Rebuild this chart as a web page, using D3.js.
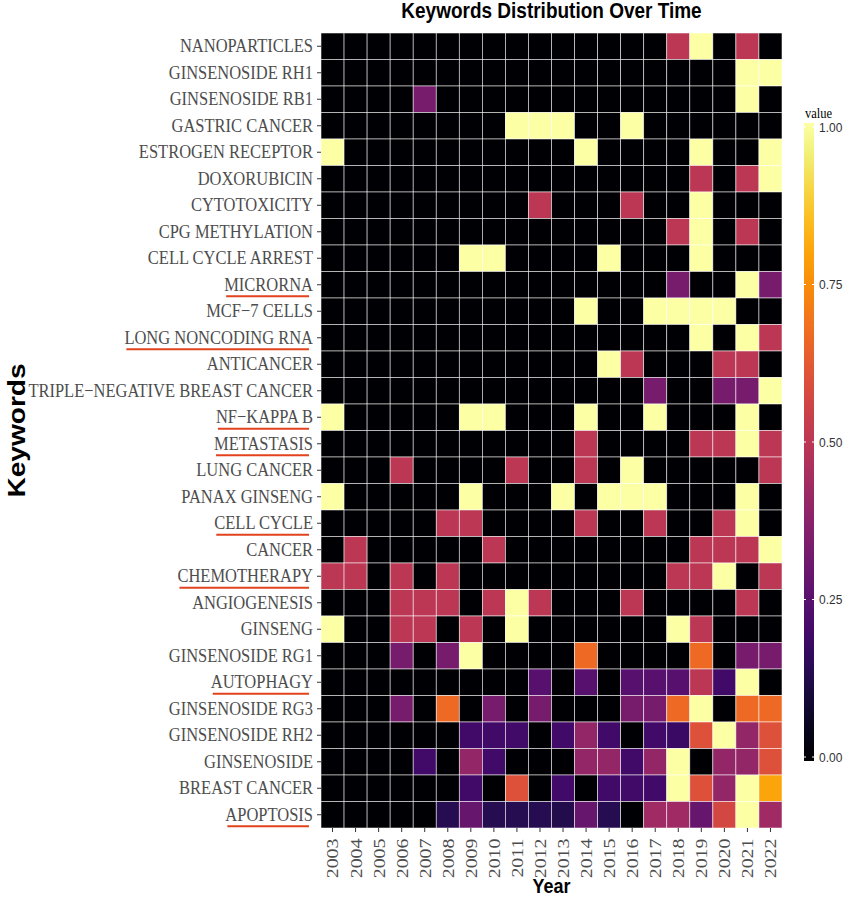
<!DOCTYPE html>
<html>
<head>
<meta charset="utf-8">
<script src="https://cdn.jsdelivr.net/npm/d3@7"></script>
<style>
  body { margin: 0; background: #fff; }
  svg { display: block; }
</style>
</head>
<body>
<div id="chart"></div>
<script>
// years on the x axis
var years = ['2003', '2004', '2005', '2006', '2007', '2008', '2009', '2010', '2011', '2012',
             '2013', '2014', '2015', '2016', '2017', '2018', '2019', '2020', '2021', '2022'];

// keywords, top to bottom
var keywords = ['NANOPARTICLES', 'GINSENOSIDE RH1', 'GINSENOSIDE RB1', 'GASTRIC CANCER',
  'ESTROGEN RECEPTOR', 'DOXORUBICIN', 'CYTOTOXICITY', 'CPG METHYLATION', 'CELL CYCLE ARREST',
  'MICRORNA', 'MCF\u22127 CELLS', 'LONG NONCODING RNA', 'ANTICANCER',
  'TRIPLE\u2212NEGATIVE BREAST CANCER', 'NF\u2212KAPPA B', 'METASTASIS', 'LUNG CANCER',
  'PANAX GINSENG', 'CELL CYCLE', 'CANCER', 'CHEMOTHERAPY', 'ANGIOGENESIS', 'GINSENG',
  'GINSENOSIDE RG1', 'AUTOPHAGY', 'GINSENOSIDE RG3', 'GINSENOSIDE RH2', 'GINSENOSIDE',
  'BREAST CANCER', 'APOPTOSIS'];

// one row per keyword, one value per year (2003..2022)
var values = [
  [0,0,0,0,0,0,0,0,0,0,0,0,0,0,0,.5,1,0,.5,0],
  [0,0,0,0,0,0,0,0,0,0,0,0,0,0,0,0,0,0,1,1],
  [0,0,0,0,.33,0,0,0,0,0,0,0,0,0,0,0,0,0,1,0],
  [0,0,0,0,0,0,0,0,1,1,1,0,0,1,0,0,0,0,0,0],
  [1,0,0,0,0,0,0,0,0,0,0,1,0,0,0,0,1,0,0,1],
  [0,0,0,0,0,0,0,0,0,0,0,0,0,0,0,0,.5,0,.5,1],
  [0,0,0,0,0,0,0,0,0,.5,0,0,0,.5,0,0,1,0,0,0],
  [0,0,0,0,0,0,0,0,0,0,0,0,0,0,0,.5,1,0,.5,0],
  [0,0,0,0,0,0,1,1,0,0,0,0,1,0,0,0,1,0,0,0],
  [0,0,0,0,0,0,0,0,0,0,0,0,0,0,0,.33,0,0,1,.33],
  [0,0,0,0,0,0,0,0,0,0,0,1,0,0,1,1,1,1,0,0],
  [0,0,0,0,0,0,0,0,0,0,0,0,0,0,0,0,1,0,1,.5],
  [0,0,0,0,0,0,0,0,0,0,0,0,1,.5,0,0,0,.5,.5,0],
  [0,0,0,0,0,0,0,0,0,0,0,0,0,0,.33,0,0,.33,.33,1],
  [1,0,0,0,0,0,1,1,0,0,0,1,0,0,1,0,0,0,1,0],
  [0,0,0,0,0,0,0,0,0,0,0,.5,0,0,0,0,.5,.5,1,.5],
  [0,0,0,.5,0,0,0,0,.5,0,0,.5,0,1,0,0,0,0,0,.5],
  [1,0,0,0,0,0,1,0,0,0,1,0,1,1,1,0,0,0,1,0],
  [0,0,0,0,0,.5,.5,0,0,0,0,.5,0,0,.5,0,0,.5,1,0],
  [0,.5,0,0,0,0,0,.5,0,0,0,0,0,0,0,0,.5,.5,.5,1],
  [.5,.5,0,.5,0,.5,0,0,0,0,0,0,0,0,0,.5,.5,1,0,.5],
  [0,0,0,.5,.5,.5,0,.5,1,.5,0,0,0,.5,0,0,0,0,.5,0],
  [1,0,0,.5,.5,0,.5,0,1,0,0,0,0,0,0,1,.5,0,0,0],
  [0,0,0,.33,0,.33,1,0,0,0,0,.67,0,0,0,0,.67,0,.33,.33],
  [0,0,0,0,0,0,0,0,0,.25,0,.25,0,.25,.25,.25,.5,.2,1,0],
  [0,0,0,.33,0,.67,0,.33,0,.33,0,0,0,.33,.33,.67,1,0,.67,.67],
  [0,0,0,0,0,0,.2,.2,.2,0,.2,.4,.2,0,.2,.18,.6,1,.4,.6],
  [0,0,0,0,.2,0,.4,.2,0,0,0,.4,.4,.2,.4,1,0,.4,.4,.6],
  [0,0,0,0,0,0,.2,0,.6,0,.2,0,.2,.2,.2,1,.6,.4,1,.8],
  [0,0,0,0,0,.14,.29,.14,.14,.14,.13,.29,.14,0,.43,.43,.29,.57,1,.43]
];

// legend breaks
var legendTicks = [0, 0.25, 0.5, 0.75, 1];

// keywords marked with a red underline
var underlined = ['MICRORNA', 'LONG NONCODING RNA', 'NF\u2212KAPPA B', 'METASTASIS',
  'CELL CYCLE', 'CHEMOTHERAPY', 'AUTOPHAGY', 'APOPTOSIS'];

var width = 844, height = 898;
var margin = { top: 33, right: 62, bottom: 70, left: 321 };
var stretch = 1.17;   // the picture is a little taller than wide
var serif = '"Liberation Serif", "Times New Roman", serif';
var sans = '"Liberation Sans", Arial, sans-serif';

var svg = d3.select('#chart').append('svg')
    .attr('width', width)
    .attr('height', height);

var x = d3.scaleBand().domain(years).range([margin.left, width - margin.right]);
var y = d3.scaleBand().domain(keywords).range([margin.top, height - margin.bottom]);
var color = d3.scaleSequential(d3.interpolateInferno).domain([0, 1]);

var cells = [];
keywords.forEach(function (k, i) {
    years.forEach(function (yr, j) {
        cells.push({ keyword: k, year: yr, value: values[i][j] });
    });
});

svg.append('g').classed('tiles', true)
    .selectAll('rect')
    .data(cells)
    .enter().append('rect')
    .attr('x', function (d) { return x(d.year); })
    .attr('y', function (d) { return y(d.keyword); })
    .attr('width', x.bandwidth())
    .attr('height', y.bandwidth())
    .attr('fill', function (d) { return color(d.value); })
    .attr('stroke', '#ffffff')
    .attr('stroke-opacity', 0.75)
    .attr('stroke-width', 0.7);

// y axis
var yAxis = svg.append('g')
    .attr('transform', 'translate(' + margin.left + ',0)')
    .call(d3.axisLeft(y).tickSize(4).tickPadding(4));
yAxis.select('.domain').remove();
yAxis.selectAll('line').attr('stroke', '#333');
yAxis.selectAll('text')
    .attr('fill', '#4d4d4d')
    .attr('font-family', serif)
    .attr('font-size', 16.5)
    .attr('transform', 'scale(1,' + stretch + ')');

// red underlines under selected keywords
yAxis.selectAll('.tick').each(function (d) {
    if (underlined.indexOf(d) < 0) return;
    var box = d3.select(this).select('text').node().getBBox();
    d3.select(this).append('line')
        .attr('x1', box.x + 2)
        .attr('x2', box.x + box.width - 4)
        .attr('y1', 11.5)
        .attr('y2', 11.5)
        .attr('stroke', '#e2421c')
        .attr('stroke-width', 2);
});

// x axis
var xAxis = svg.append('g')
    .attr('transform', 'translate(0,' + (height - margin.bottom) + ')')
    .call(d3.axisBottom(x).tickSize(4).tickPadding(5));
xAxis.select('.domain').remove();
xAxis.selectAll('line').attr('stroke', '#333');
xAxis.selectAll('text')
    .attr('fill', '#4d4d4d')
    .attr('font-family', serif)
    .attr('font-size', 17)
    .attr('text-anchor', 'end')
    .attr('x', -9)
    .attr('y', 0)
    .attr('dy', '0.35em')
    .attr('transform', 'scale(1,' + stretch + ') rotate(-90)');

// titles
var plotMid = (margin.left + width - margin.right) / 2;
svg.append('text')
    .attr('transform', 'translate(' + plotMid + ',18) scale(1,1.12)')
    .attr('text-anchor', 'middle')
    .attr('font-family', sans)
    .attr('font-weight', 'bold')
    .attr('font-size', 19)
    .text('Keywords Distribution Over Time');

svg.append('text')
    .attr('transform', 'translate(' + plotMid + ',893) scale(1,1.12)')
    .attr('text-anchor', 'middle')
    .attr('font-family', sans)
    .attr('font-weight', 'bold')
    .attr('font-size', 18)
    .text('Year');

svg.append('text')
    .attr('transform', 'translate(25,' + ((margin.top + height - margin.bottom) / 2) + ') scale(1,' + stretch + ') rotate(-90)')
    .attr('text-anchor', 'middle')
    .attr('font-family', sans)
    .attr('font-weight', 'bold')
    .attr('font-size', 24)
    .text('Keywords');

// colour bar legend
var barX = 804, barW = 10;
var legendY = d3.scaleLinear().domain([0, 1]).range([757, 127]);

var grad = svg.append('defs').append('linearGradient')
    .attr('id', 'bar-grad')
    .attr('x1', 0).attr('y1', 1).attr('x2', 0).attr('y2', 0);
d3.range(0, 1.0001, 0.05).forEach(function (t) {
    grad.append('stop').attr('offset', t).attr('stop-color', color(t));
});

svg.append('rect')
    .attr('x', barX)
    .attr('y', legendY(1) - 4)
    .attr('width', barW)
    .attr('height', legendY(0) - legendY(1) + 8)
    .attr('fill', 'url(#bar-grad)');

var legendAxis = svg.append('g').classed('legend', true);
legendAxis.selectAll('line.l')
    .data(legendTicks)
    .enter().append('line')
    .attr('x1', barX).attr('x2', barX + 2)
    .attr('y1', legendY).attr('y2', legendY)
    .attr('stroke', '#fff');
legendAxis.selectAll('line.r')
    .data(legendTicks)
    .enter().append('line')
    .attr('x1', barX + barW - 2).attr('x2', barX + barW)
    .attr('y1', legendY).attr('y2', legendY)
    .attr('stroke', '#fff');
legendAxis.selectAll('text')
    .data(legendTicks)
    .enter().append('text')
    .attr('transform', function (d) { return 'translate(' + (barX + barW + 5) + ',' + legendY(d) + ') scale(1,1.12)'; })
    .attr('dy', '0.35em')
    .attr('font-family', sans)
    .attr('font-size', 12)
    .attr('fill', '#333')
    .text(function (d) { return d3.format('.2f')(d); });

svg.append('text')
    .attr('transform', 'translate(' + (barX + 1) + ',118) scale(1,1.15)')
    .attr('font-family', serif)
    .attr('font-size', 12.5)
    .text('value');
</script>
</body>
</html>
